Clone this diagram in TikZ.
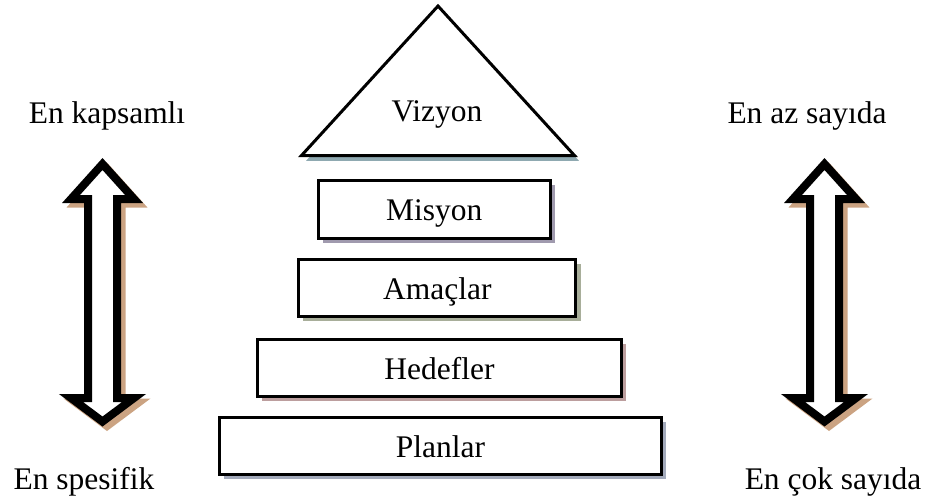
\documentclass[tikz,border=0pt]{standalone}
\usepackage{fontspec}
\setmainfont{Liberation Serif}
\usetikzlibrary{shadows}

\definecolor{shTri}{HTML}{8FA9B1}
\definecolor{shMis}{HTML}{A09AAE}
\definecolor{shAma}{HTML}{A8AE9A}
\definecolor{shHed}{HTML}{BC9E9E}
\definecolor{shPla}{HTML}{A3AABB}
\definecolor{shArr}{HTML}{CBA382}

\tikzset{
  lbl/.style={font=\fontsize{23.6}{28}\selectfont, inner sep=0pt, anchor=base},
  tier/.style={draw, line width=2.25pt, fill=white, rectangle, inner sep=0pt,
    text height=30pt, text depth=13.1pt, minimum height=43.1pt,
    font=\fontsize{23.6}{28}\selectfont,
    drop shadow={shadow xshift=3.4pt, shadow yshift=-3.4pt, opacity=1, fill=#1}},
  arrowbody/.style={draw, fill=white, line width=6pt, miter limit=10},
  arrowshadow/.style={fill=shArr, draw=shArr, line width=6pt, miter limit=10},
}

\begin{document}
\begin{tikzpicture}[x=0.75pt, y=-0.75pt]
  \useasboundingbox (0,0) rectangle (928,501);

  % apex triangle
  \draw[line width=2.25pt, fill=white, miter limit=10,
        drop shadow={shadow xshift=3.4pt, shadow yshift=-4pt, opacity=1, fill=shTri}]
    (438,6) -- (574.5,155.5) -- (301.5,155.5) -- cycle;
  \node[lbl] (vizyon) at (437,121.7) {Vizyon};

  % stacked tiers
  \node[tier=shMis, minimum width=174pt] (misyon)   at (434.2,209.4) {Misyon};
  \node[tier=shAma, minimum width=208pt] (amaclar)  at (437.3,288)   {Amaçlar};
  \node[tier=shHed, minimum width=273pt] (hedefler) at (439.5,368)   {Hedefler};
  \node[tier=shPla, minimum width=332pt] (planlar)  at (440.5,446)   {Planlar};

  % double-headed hollow arrows
  \foreach \cx in {102.5, 824.5} {
    \begin{scope}[shift={(\cx,0)}]
      \path[arrowshadow, shift={(4.5,4.5)}]
        (0,164) -- (31.5,199) -- (14.5,199) -- (14.5,398) -- (31.5,398)
        -- (0,421.5) -- (-31.5,398) -- (-14.5,398) -- (-14.5,199) -- (-31.5,199) -- cycle;
      \path[arrowbody]
        (0,164) -- (31.5,199) -- (14.5,199) -- (14.5,398) -- (31.5,398)
        -- (0,421.5) -- (-31.5,398) -- (-14.5,398) -- (-14.5,199) -- (-31.5,199) -- cycle;
    \end{scope}
  }

  % side captions
  \node[lbl] (kapsamli) at (107,123)   {En kapsamlı};
  \node[lbl] (spesifik) at (84,489)    {En spesifik};
  \node[lbl] (azsayida) at (807,123)   {En az sayıda};
  \node[lbl] (coksayida) at (833,489)  {En çok sayıda};
\end{tikzpicture}
\end{document}
